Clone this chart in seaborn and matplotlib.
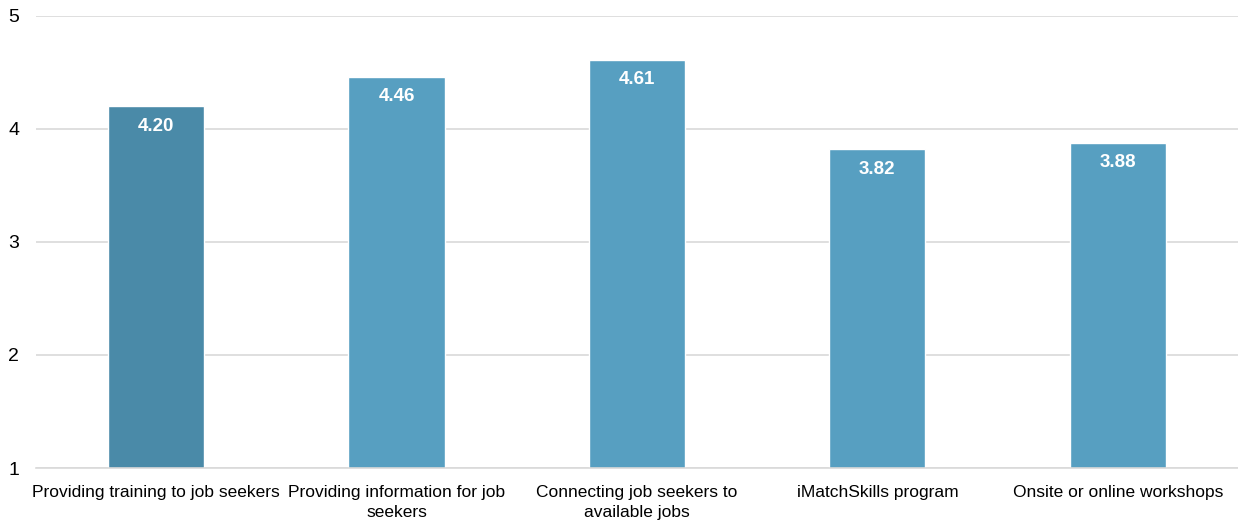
import matplotlib
matplotlib.use("Agg")
import matplotlib.pyplot as plt
import seaborn as sns
import pandas as pd

categories = [
    "Providing training to job seekers",
    "Providing information for job\nseekers",
    "Connecting job seekers to\navailable jobs",
    "iMatchSkills program",
    "Onsite or online workshops",
]
scores = [4.20, 4.46, 4.61, 3.82, 3.88]
bar_colors = ["#4A8AA8", "#579FC1", "#579FC1", "#579FC1", "#579FC1"]

sns.set_theme(style="white")
plt.rcParams["font.family"] = ["Liberation Sans", "DejaVu Sans"]

df = pd.DataFrame({"category": categories, "score": scores})

fig = plt.figure(figsize=(12.38, 5.29), dpi=100)
ax = fig.add_axes([0.029, 0.1153, 0.971, 0.8545])

sns.barplot(data=df, x="category", y="score", hue="category",
            palette=bar_colors, width=0.40, legend=False, ax=ax,
            saturation=1)

ax.set_ylim(1, 5)
ax.set_yticks([1, 2, 3, 4, 5])
ax.set_xlim(-0.5, len(categories) - 0.5)
ax.yaxis.grid(True, color="#D9D9D9", linewidth=1.2)
ax.set_axisbelow(True)
for s in ["top", "right", "left"]:
    ax.spines[s].set_visible(False)
ax.spines["bottom"].set_color("#D9D9D9")
ax.spines["bottom"].set_linewidth(1.2)
ax.set_xlabel("")
ax.set_ylabel("")
ax.tick_params(axis="x", length=0, labelsize=12.5, colors="black", pad=12)
ax.tick_params(axis="y", length=0, labelsize=14, colors="black", pad=12)
for lbl in ax.get_xticklabels():
    lbl.set_linespacing(1.45)

for i, v in enumerate(scores):
    ax.text(i, v - 0.1, f"{v:.2f}", ha="center", va="top",
            color="white", fontsize=13.5, fontweight="bold")

fig.savefig("out.png", dpi=100)
